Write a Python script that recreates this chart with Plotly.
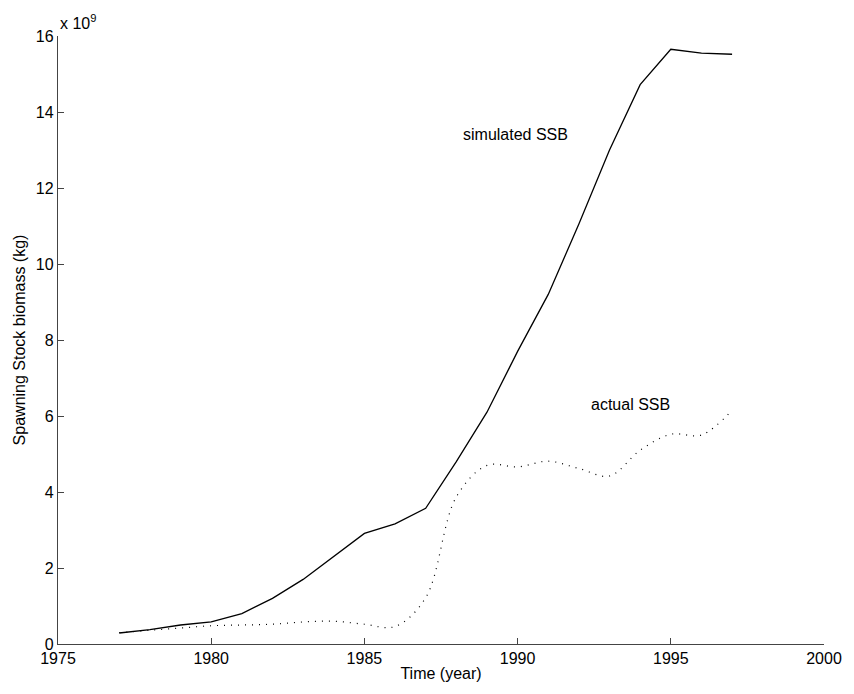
import plotly.graph_objects as go

years = [1977, 1978, 1979, 1980, 1981, 1982, 1983, 1984, 1985, 1986, 1987,
         1988, 1989, 1990, 1991, 1992, 1993, 1994, 1995, 1996, 1997]
# values in units of 1e9 kg
simulated_ssb = [0.29, 0.38, 0.50, 0.58, 0.80, 1.20, 1.70, 2.30, 2.91, 3.16, 3.57,
                 4.80, 6.10, 7.70, 9.20, 11.05, 13.00, 14.72, 15.65, 15.55, 15.52]
actual_ssb = [0.30, 0.36, 0.42, 0.48, 0.50, 0.52, 0.58, 0.60, 0.52, 0.46, 1.22,
              3.87, 4.70, 4.66, 4.81, 4.62, 4.42, 5.10, 5.52, 5.50, 6.15]

x_ticks = [1975, 1980, 1985, 1990, 1995, 2000]
y_ticks = [0, 2, 4, 6, 8, 10, 12, 14, 16]

FONT = "Liberation Sans, Arial, Helvetica, sans-serif"

fig = go.Figure()
fig.add_trace(go.Scatter(x=years, y=simulated_ssb, mode="lines",
                         line=dict(color="black", width=1.3), showlegend=False))
fig.add_trace(go.Scatter(x=years, y=actual_ssb, mode="lines",
                         line=dict(color="black", width=1.2, dash="1px,6px",
                                   shape="spline", smoothing=1.0),
                         showlegend=False))

fig.add_annotation(x=1989.92, y=13.4, text="simulated SSB", showarrow=False,
                   font=dict(family=FONT, size=16, color="black"), xanchor="center")
fig.add_annotation(x=1993.68, y=6.3, text="actual SSB", showarrow=False,
                   font=dict(family=FONT, size=16, color="black"), xanchor="center")
fig.add_annotation(xref="paper", yref="paper", x=0.0, y=1.0, yanchor="bottom",
                   xanchor="left", text="x 10<sup>9</sup>", showarrow=False,
                   font=dict(family=FONT, size=16, color="black"), yshift=2)

fig.update_layout(
    width=854, height=694,
    margin=dict(l=58, r=26, t=36, b=50),
    paper_bgcolor="white", plot_bgcolor="white",
    font=dict(family=FONT, size=16, color="black"),
    xaxis=dict(range=[1975, 2000], tickvals=x_ticks, ticktext=[str(v) for v in x_ticks],
               showgrid=False, zeroline=False, showline=True, linecolor="#444",
               linewidth=1.3, ticks="inside", ticklen=6, tickcolor="#444",
               title=dict(text="Time (year)", font=dict(size=16), standoff=1)),
    yaxis=dict(range=[0, 16], tickvals=y_ticks, ticktext=[str(v) for v in y_ticks],
               showgrid=False, zeroline=False, showline=True, linecolor="#444",
               linewidth=1.3, ticks="inside", ticklen=6, tickcolor="#444",
               title=dict(text="Spawning Stock biomass (kg)", font=dict(size=16), standoff=6)),
)

fig.write_html("out.html")
